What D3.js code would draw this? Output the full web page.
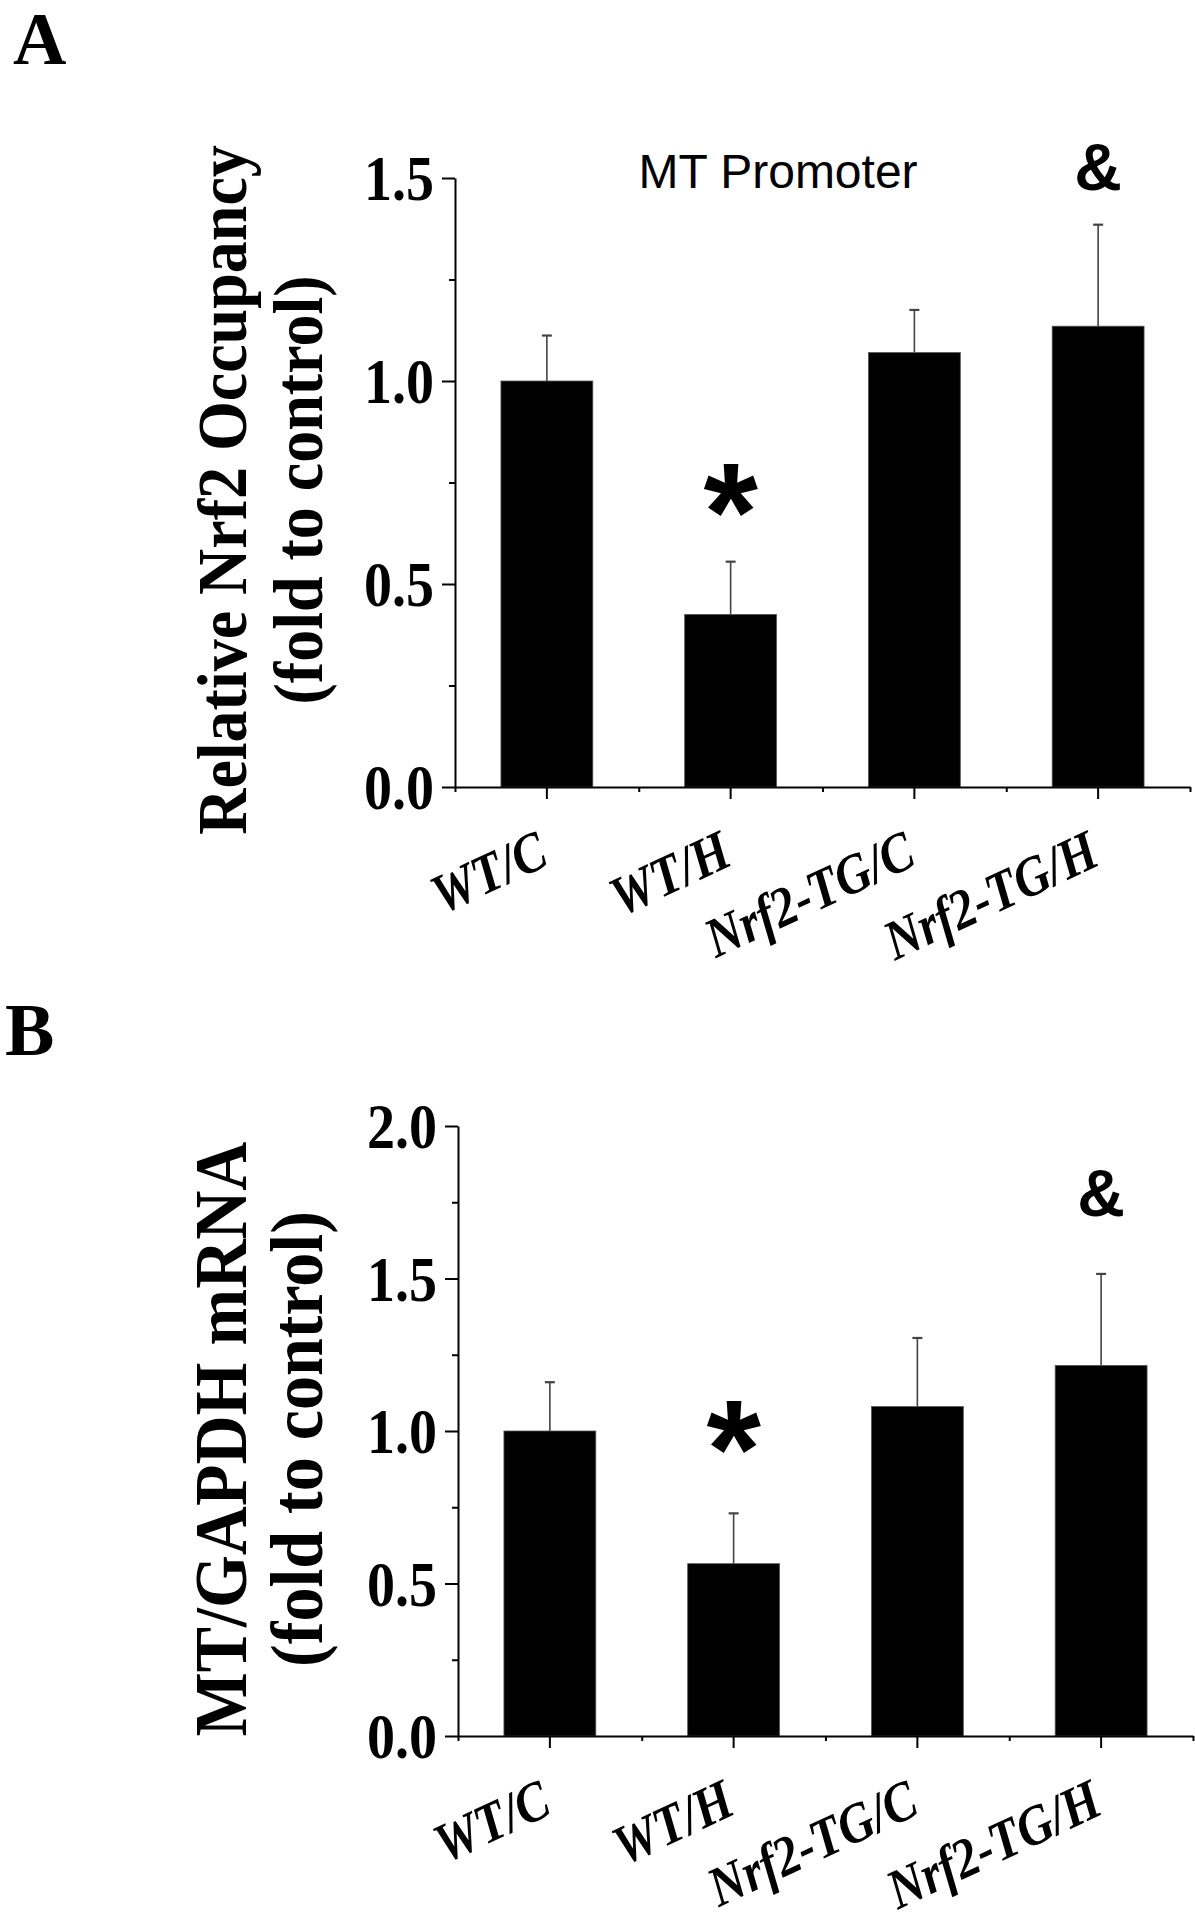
<!DOCTYPE html>
<html>
<head>
<meta charset="utf-8">
<script src="https://cdn.jsdelivr.net/npm/d3@7/dist/d3.min.js"></script>
<style>
  body { margin: 0; background: #fff; }
  svg { display: block; }
</style>
</head>
<body>
<script>
// data
const categories = ['WT/C', 'WT/H', 'Nrf2-TG/C', 'Nrf2-TG/H'];
const occupancyMean = [1.0, 0.425, 1.07, 1.135];
const occupancyErr = [0.112, 0.13, 0.105, 0.25];
const mrnaMean = [1.0, 0.565, 1.08, 1.215];
const mrnaErr = [0.16, 0.165, 0.225, 0.30];
const ticksA = [0, 0.5, 1.0, 1.5];
const ticksB = [0, 0.5, 1.0, 1.5, 2.0];

const serif = '"Liberation Serif", "Times New Roman", serif';
const sans = '"Liberation Sans", Arial, sans-serif';

let svg = d3.select('body')
	.append('svg')
	.attr('width', 1195)
	.attr('height', 1920);

svg.append('rect').attr('width', 1195).attr('height', 1920).attr('fill', '#fff');

// the figure's serif text is tall and narrow: measure at the base size,
// then draw with a bigger font squeezed back to that width
function condense(sel, base, big) {
	sel.each(function () {
		let t = d3.select(this).attr('font-size', base);
		let len = this.getComputedTextLength();
		t.attr('font-size', big)
			.attr('textLength', len)
			.attr('lengthAdjust', 'spacingAndGlyphs');
	});
}

function drawPanel(p) {
	let x = d3.scaleBand()
		.domain(categories)
		.range([p.left, p.right])
		.paddingInner(0.5)
		.paddingOuter(0.25);

	let y = d3.scaleLinear()
		.domain([0, p.ymax])
		.range([p.bottom, p.top]);

	let rows = categories.map((c, i) => ({ c: c, v: p.mean[i], e: p.err[i] }));

	// error bars (upper half only, drawn under the bars)
	let eb = svg.append('g').attr('stroke', '#444').attr('stroke-width', 1.6);
	eb.selectAll('.whisker')
		.data(rows)
		.enter()
		.append('line')
		.attr('x1', d => x(d.c) + x.bandwidth() / 2)
		.attr('x2', d => x(d.c) + x.bandwidth() / 2)
		.attr('y1', d => y(d.v))
		.attr('y2', d => y(d.v + d.e));
	eb.selectAll('.cap')
		.data(rows)
		.enter()
		.append('line')
		.attr('x1', d => x(d.c) + x.bandwidth() / 2 - 5)
		.attr('x2', d => x(d.c) + x.bandwidth() / 2 + 5)
		.attr('y1', d => y(d.v + d.e))
		.attr('y2', d => y(d.v + d.e))
		.attr('stroke-width', 2.2);

	svg.selectAll('.bar' + p.id)
		.data(rows)
		.enter()
		.append('rect')
		.attr('x', d => x(d.c))
		.attr('y', d => y(d.v))
		.attr('width', x.bandwidth())
		.attr('height', d => y(0) - y(d.v))
		.attr('fill', '#000')
		.attr('stroke', '#555')
		.attr('stroke-width', 0.8);

	// y axis: major + minor ticks
	let yMinor = d3.range(0.25, p.ymax, 0.5);
	let gy = svg.append('g')
		.attr('transform', `translate(${p.left},0)`)
		.call(d3.axisLeft(y).tickValues(p.ticks).tickSize(13).tickSizeOuter(0).tickPadding(8).tickFormat(d3.format('.1f')));
	svg.append('g')
		.attr('transform', `translate(${p.left},0)`)
		.call(d3.axisLeft(y).tickValues(yMinor).tickSize(6).tickFormat(''))
		.select('.domain').remove();
	gy.selectAll('text')
		.attr('font-family', serif)
		.attr('font-weight', 'bold')
		.attr('fill', '#000')
		.attr('dy', '0.34em')
		.call(condense, 56, 64);

	// x axis: ticks at band centres, short ticks at band edges
	svg.append('g')
		.attr('transform', `translate(0,${p.bottom})`)
		.call(d3.axisBottom(x).tickSize(12).tickSizeOuter(0).tickFormat(''));
	let edge = d3.scaleLinear().domain([0, categories.length]).range([p.left, p.right]);
	svg.append('g')
		.attr('transform', `translate(0,${p.bottom})`)
		.call(d3.axisBottom(edge).tickValues(d3.range(0, categories.length + 1)).tickSize(5).tickFormat(''))
		.select('.domain').remove();

	svg.selectAll('path.domain, .tick line')
		.attr('stroke', '#000')
		.attr('stroke-width', 2);

	svg.selectAll('.xlab' + p.id)
		.data(categories)
		.enter()
		.append('text')
		.attr('transform', d => `translate(${x(d) + x.bandwidth() / 2 + 4},${p.bottom + 77}) rotate(-25)`)
		.attr('text-anchor', 'end')
		.attr('font-family', serif)
		.attr('font-weight', 'bold')
		.attr('font-style', 'italic')
		.text(d => d)
		.call(condense, 49, 56);

	// y title, two lines
	p.title.forEach((t, i) => {
		svg.append('text')
			.attr('transform', `translate(${[246, 322][i]},${p.titleY}) rotate(-90)`)
			.attr('text-anchor', 'middle')
			.attr('font-family', serif)
			.attr('font-weight', 'bold')
			.text(t)
			.call(condense, p.titleSize, p.titleSize * 1.1);
	});

	// panel letter
	svg.append('text')
		.attr('x', p.letterX)
		.attr('y', p.letterY)
		.attr('font-family', serif)
		.attr('font-weight', 'bold')
		.attr('font-size', 74)
		.text(p.id);

	// significance marks
	p.marks.forEach(m => {
		svg.append('text')
			.attr('x', x(m.c) + x.bandwidth() / 2)
			.attr('y', m.y)
			.attr('text-anchor', 'middle')
			.attr('font-family', sans)
			.attr('font-weight', 'bold')
			.attr('font-size', m.size)
			.text(m.s);
	});

	if (p.header) {
		svg.append('text')
			.attr('x', 778)
			.attr('y', 188)
			.attr('text-anchor', 'middle')
			.attr('font-family', sans)
			.attr('font-size', 48)
			.text(p.header);
	}
}

drawPanel({
	id: 'A', left: 455, right: 1190, top: 178, bottom: 787, ymax: 1.5,
	mean: occupancyMean, err: occupancyErr, ticks: ticksA,
	title: ['Relative Nrf2 Occupancy', '(fold to control)'], titleY: 490, titleSize: 64,
	letterX: 13, letterY: 64,
	marks: [{ c: 'WT/H', s: '*', y: 560, size: 140 }, { c: 'Nrf2-TG/H', s: '&', y: 190, size: 66 }],
	header: 'MT Promoter'
});

drawPanel({
	id: 'B', left: 458, right: 1193, top: 1126, bottom: 1736, ymax: 2.0,
	mean: mrnaMean, err: mrnaErr, ticks: ticksB,
	title: ['MT/GAPDH mRNA', '(fold to control)'], titleY: 1439, titleSize: 68,
	letterX: 5, letterY: 1055,
	marks: [{ c: 'WT/H', s: '*', y: 1497, size: 140 }, { c: 'Nrf2-TG/H', s: '&', y: 1216, size: 66 }]
});
</script>
</body>
</html>
